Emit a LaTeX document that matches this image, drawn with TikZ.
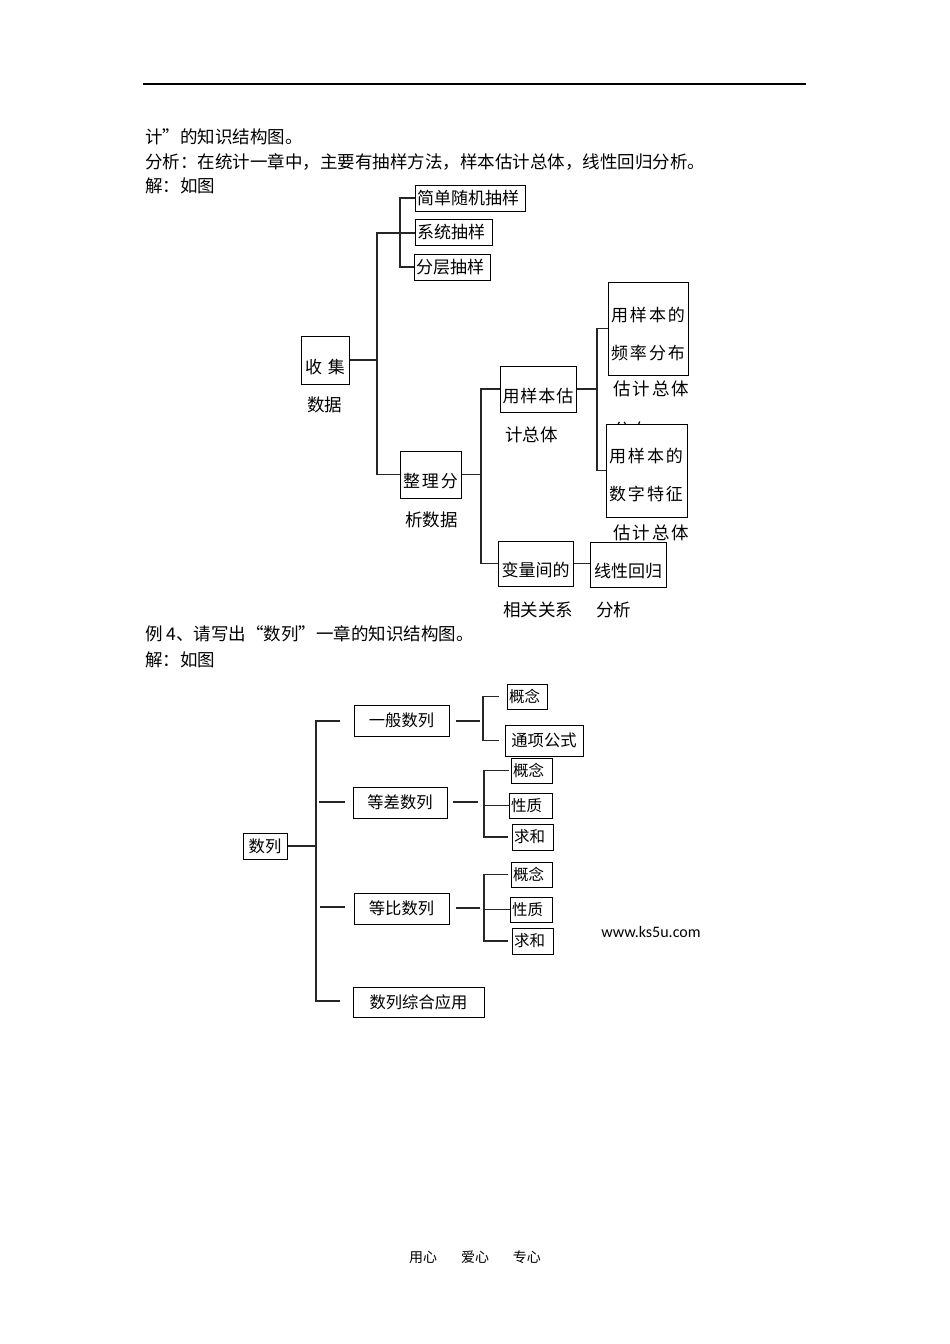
\documentclass[tikz,border=0pt]{standalone}
\usepackage{fontspec}
\newfontfamily\cjk{Noto Sans CJK SC}
\newfontfamily\latin{Carlito}
\usetikzlibrary{positioning}

\newcommand{\ksp}{\kern2pt}
\newcommand{\wsp}{\kern6pt}

\begin{document}
\begin{tikzpicture}[x=1pt, y=-1pt,
    every node/.style={font=\cjk\fontsize{17}{20}\selectfont, inner sep=0pt},
    page/.style={font=\cjk\fontsize{17.5}{20}\selectfont, anchor=west},
    box/.style={draw, line width=1pt, inner xsep=2pt, align=left},
    lowtext/.style={text height=28pt, text depth=2pt},
    branch/.style={line width=1.3pt, draw=black!85},
    seqfont/.style={font=\cjk\fontsize{16.3}{20}\selectfont},
    leaffont/.style={font=\cjk\fontsize{15.5}{18}\selectfont},
]
\useasboundingbox (0,0) rectangle (950,1344);
\draw[line width=1.2pt] (143,84) -- (806,84);

% page text
\node[page] (line1) at (145,137) {计”的知识结构图。};
\node[page] (line2) at (145,162) {分析：在统计一章中，主要有抽样方法，样本估计总体，线性回归分析。};
\node[page] (line3) at (145,186) {解：如图};
\node[page] (line4) at (145,634) {例 4、请写出“数列”一章的知识结构图。};
\node[page] (line5) at (145,660) {解：如图};

% statistics chart
\node[box, align=center, text width=44, minimum height=48, lowtext] (shouji) at (325,360) {收\wsp 集};
\node[page] (shouji2) at (307,405) {数据};
\node[box, text width=106, minimum height=26] (jiandan) at (470,198) {简单随机抽样};
\node[box, text width=73, minimum height=26] (xitong) at (453.5,232) {系统抽样};
\node[box, text width=72, minimum height=26] (fenceng) at (452,267) {分层抽样};
\node[box, align=center, text width=57, minimum height=47, lowtext] (zhengli) at (430.5,474.5) {整\ksp 理\ksp 分};
\node[page] (zhengli2) at (405,520) {析数据};
\node[box, align=center, text width=72, minimum height=46, lowtext] (yongyang) at (538,389) {用\kern1pt 样\kern1pt 本\kern1pt 估};
\node[page] (yongyang2) at (505,435) {计总体};
\node[box, align=center, text width=71, minimum height=45, lowtext] (bianliang) at (535.5,563.5) {变量间的};
\node[page] (bianliang2) at (503,610) {相关关系};
\node[box, align=center, text width=72, minimum height=45, lowtext] (xianxing) at (628,564.5) {线性回归};
\node[page] (xianxing2) at (596,610) {分析};
\node[box, inner xsep=3pt, text width=74, minimum height=93] (pinlv) at (648,328.5) {\rule{0pt}{25pt}用\ksp 样\ksp 本\ksp 的\\[18pt]频\ksp 率\ksp 分\ksp 布};
\node[page] (pinlv2) at (613,389) {估\ksp 计\ksp 总\ksp 体};
\node[page] (pinlv3) at (613,430) {分\ksp 布};
\node[box, fill=white, inner xsep=3pt, text width=75, minimum height=93] (shuzi) at (646.5,470.5) {\rule{0pt}{23pt}用\ksp 样\ksp 本\ksp 的\\[18pt]数\ksp 字\ksp 特\ksp 征};
\node[page] (shuzi2) at (613,533) {估\ksp 计\ksp 总\ksp 体};

\coordinate (t1) at (377,233);
\coordinate (s1) at (400,233);
\coordinate (t2) at (481,389);
\coordinate (t3) at (597,389);
\draw[branch] (shouji.east) -- (shouji.east -| t1);
\draw[branch] (s1) -- (t1) |- (zhengli.west);
\draw[branch] (jiandan.west) -| (s1) |- (fenceng.west);
\draw[branch] (s1) -- (s1 -| xitong.west);
\draw[branch] (zhengli.east) -- (zhengli.east -| t2);
\draw[branch] (yongyang.west) -- (t2) |- (bianliang.west);
\draw[branch] (bianliang.east) -- (bianliang.east -| xianxing.west);
\draw[branch] (yongyang.east) -- (t3);
\draw[branch] (pinlv.west) -| (t3) |- (shuzi.west);

% sequence chart
\node[box, seqfont, align=center, text width=40, minimum height=26] (shulie) at (265,846) {数列};
\node[box, seqfont, align=center, text width=91, minimum height=31] (yiban) at (401.5,720.5) {一般数列};
\node[box, seqfont, align=center, text width=90, minimum height=31] (dengcha) at (400,802.5) {等差数列};
\node[box, seqfont, align=center, text width=91, minimum height=31] (dengbi) at (401.5,908.5) {等比数列};
\node[box, seqfont, align=center, text width=127, minimum height=30] (zonghe) at (418.5,1002) {数列综合应用};
\node[box, leaffont, text width=36, minimum height=25] (gn1) at (527,696.5) {概念};
\node[box, seqfont, align=center, text width=74, minimum height=31] (tx1) at (544,740.5) {通项公式};
\node[box, leaffont, text width=37, minimum height=25] (gn2) at (531.5,770.5) {概念};
\node[box, leaffont, text width=39, minimum height=25] (xz2) at (530.5,805.5) {性质};
\node[box, leaffont, text width=37, minimum height=26] (qh2) at (532.5,837) {求和};
\node[box, leaffont, text width=37, minimum height=25] (gn3) at (531.5,874.5) {概念};
\node[box, leaffont, text width=38, minimum height=25] (xz3) at (531,909.5) {性质};
\node[box, leaffont, text width=37, minimum height=26] (qh3) at (532.5,941) {求和};

\coordinate (rtop) at (316,721);
\coordinate (rbot) at (316,1001);
\coordinate (a1) at (340,721);
\coordinate (a4) at (340,1001);
\coordinate (a2s) at (319,802);
\coordinate (a2e) at (345,802);
\coordinate (a3s) at (320,907);
\coordinate (a3e) at (345,907);
\draw[branch] (shulie.east) -- (shulie.east -| rtop);
\draw[branch] (a1) -- (rtop) -- (rbot) -- (a4);
\draw[branch] (a2s) -- (a2e);
\draw[branch] (a3s) -- (a3e);

\coordinate (c1s) at (456,721);
\coordinate (c1) at (480,721);
\coordinate (v1) at (483,721);
\draw[branch] (c1s) -- (c1);
\draw[branch] ([xshift=-8pt]gn1.west) -| (v1) |- ([xshift=-6pt]tx1.west);

\coordinate (c2s) at (453,802);
\coordinate (c2) at (478,802);
\coordinate (v2) at (484,802);
\draw[branch] (c2s) -- (c2);
\draw[branch] ([xshift=-2pt]gn2.west) -| (v2) |- ([xshift=-4pt]qh2.west);
\draw[branch] (v2 |- xz2.west) -- (xz2.west);

\coordinate (c3s) at (456,908);
\coordinate (c3) at (480,908);
\coordinate (v3) at (484,908);
\draw[branch] (c3s) -- (c3);
\draw[branch] ([xshift=-3pt]gn3.west) -| (v3) |- ([xshift=-4pt]qh3.west);
\draw[branch] (v3 |- xz3.west) -- (xz3.west);

\node[font=\latin\fontsize{16}{19}\selectfont] (site) at (651,932) {www.ks5u.com};
\node[font=\cjk\fontsize{14}{17}\selectfont] (foot) at (475,1257) {用心\hspace{24pt}爱心\hspace{24pt}专心};
\end{tikzpicture}
\end{document}
